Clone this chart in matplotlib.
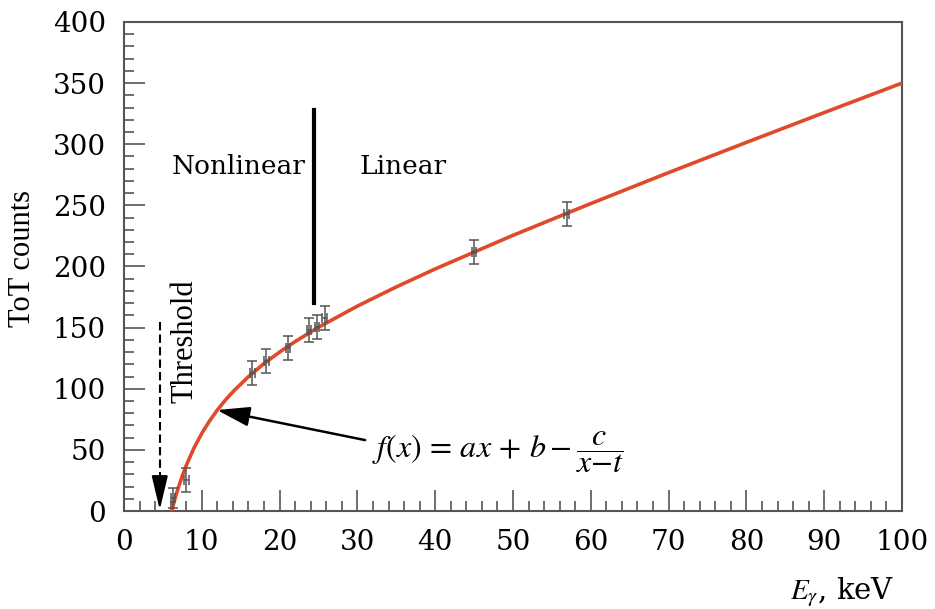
import numpy as np
import matplotlib.pyplot as plt
from matplotlib.ticker import MultipleLocator

plt.rcParams['mathtext.fontset'] = 'stix'

# измеренные точки (энергия, кэВ / ToT) и их ошибки
e_kev = [6.3, 8.0, 16.5, 18.3, 21.1, 23.8, 24.8, 25.8, 45.0, 56.9]
tot = [10.6, 25.4, 112.9, 122.7, 133.3, 148.0, 150.5, 157.9, 211.9, 243.0]
tot_err = [8, 10, 10, 10, 10, 10, 10, 10, 10, 10]
e_err = [0.3, 0.3, 0.3, 0.3, 0.3, 0.3, 0.3, 0.3, 0.3, 0.3]

# аппроксимирующая кривая
fit_x = [6.15, 6.3, 6.5, 6.75, 7, 7.5, 8, 9, 10, 11, 12, 13, 14, 16, 18, 20, 22, 25,
         30, 35, 40, 50, 60, 70, 80, 90, 100]
fit_y = [0.0, 4.1, 8.8, 14.3, 19.4, 28.8, 37.2, 51.6, 63.5, 73.7, 82.6, 90.5, 97.5,
         109.9, 120.6, 130.0, 138.6, 150.3, 167.6, 183.3, 198.0, 225.5, 251.5, 276.8,
         301.5, 325.9, 350.0]

frame = '#555555'
serif_h = 'DejaVu Serif'
serif_v = 'Liberation Serif'

fig = plt.figure(figsize=(9.35, 6.09), dpi=100)
ax = fig.add_axes([0.1326, 0.1609, 0.8321, 0.803])

ax.plot(fit_x, fit_y, color='#e04a2c', lw=2.6, zorder=3)
ax.errorbar(e_kev, tot, yerr=tot_err, xerr=e_err, fmt='none', ecolor='#555555',
            elinewidth=1.1, capsize=3.5, capthick=1.1, zorder=4)

# граница нелинейной области
ax.plot([24.4, 24.4], [170, 328], color='k', lw=3)
ax.text(23.3, 282, 'Nonlinear', ha='right', va='center', fontsize=19, family=serif_h)
ax.text(30.3, 282, 'Linear', ha='left', va='center', fontsize=19, family=serif_h)

# порог
ax.plot([4.6, 4.6], [155, 25], color='k', lw=1.5, ls=(0, (4, 2)))
ax.annotate('', xy=(4.6, 1), xytext=(4.6, 27),
            arrowprops=dict(arrowstyle='-|>,head_length=2.1,head_width=0.5',
                            color='k', lw=1.5, shrinkA=0, shrinkB=0))
ax.text(7.8, 139, 'Threshold', rotation=90, ha='center', va='center',
        fontsize=22, family=serif_v)

# формула
ax.annotate('', xy=(11.95, 82.6), xytext=(31.0, 58),
            arrowprops=dict(arrowstyle='-|>,head_length=2.0,head_width=0.6',
                            color='k', lw=1.8, shrinkA=0, shrinkB=0))
ax.text(31.9, 48, r'$f(x)\,=\,ax\,+\,b - \dfrac{c}{x{-}t}$', ha='left', va='center',
        fontsize=23)

ax.set_xlim(0, 100)
ax.set_ylim(0, 400)
ax.xaxis.set_major_locator(MultipleLocator(10))
ax.xaxis.set_minor_locator(MultipleLocator(2))
ax.yaxis.set_major_locator(MultipleLocator(50))
ax.yaxis.set_minor_locator(MultipleLocator(10))
ax.tick_params(which='both', direction='in', color=frame, width=1.2)
ax.tick_params(which='major', length=15, pad=13)
ax.tick_params(which='minor', length=7)
for lab in ax.get_xticklabels() + ax.get_yticklabels():
    lab.set_family(serif_h)
    lab.set_fontsize(20)
for s in ax.spines.values():
    s.set_color(frame)
    s.set_linewidth(1.5)

ax.set_ylabel('ToT counts', fontsize=22, family=serif_v)
ax.yaxis.set_label_coords(-0.112, 0.517)
ax.text(0.99, -0.166, r'$E_{\gamma}$, keV', transform=ax.transAxes, ha='right',
        va='center', fontsize=21, family=serif_h)

fig.savefig('out.png', dpi=100)
